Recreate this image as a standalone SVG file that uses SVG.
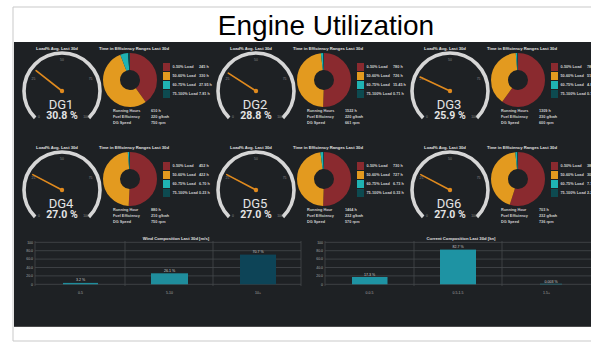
<svg xmlns="http://www.w3.org/2000/svg" width="591" height="343" viewBox="0 0 591 343">
<defs>
<style>
.frame{fill:none;stroke:#c9c9c9;stroke-width:1}
.t{font-family:"Liberation Sans",Arial,sans-serif;fill:#d9d9d9}
.ttl{font-size:4.2px;font-weight:bold;text-anchor:middle;fill:#e0e0e0}
.sm{font-size:3.8px;font-weight:bold;fill:#d0d0d0}
.tick{font-size:3.4px;fill:#8a8a8a;text-anchor:middle}
.arc{fill:none;stroke:#d6d6d6;stroke-width:3.6}
.needle{stroke:#e08a1e;stroke-width:1.6;stroke-linecap:round}
.dg{font-family:Roboto,"Liberation Sans",sans-serif;font-size:13px;fill:#e4e4e4;text-anchor:middle}
.pct{font-family:Roboto,"Liberation Sans",sans-serif;font-size:10.5px;font-weight:bold;fill:#e4e4e4;text-anchor:middle}
.seg{fill:none;stroke-width:17}
.m{stroke:#8a2a2f}.o{stroke:#e39a1f}.c{stroke:#1fb3b3}.d{stroke:#0d4a50}
.fm{fill:#8a2a2f}.fo{fill:#e39a1f}.fc{fill:#1fb3b3}.fd{fill:#0d4a50}
.grid{stroke:#45494d;stroke-width:0.8}
.ax{font-size:3.5px;fill:#a8a8a8;text-anchor:end}
.cat{font-size:3.5px;fill:#a8a8a8;text-anchor:middle}
.bl{font-size:3.6px;fill:#cfcfcf;text-anchor:middle}
</style>
</defs>
<rect x="0" y="0" width="591" height="343" fill="#ffffff"/>
<line class="frame" x1="13" y1="7" x2="591" y2="7"/>
<line class="frame" x1="13" y1="7" x2="13" y2="341"/>
<line class="frame" x1="13" y1="341" x2="591" y2="341"/>
<text x="326" y="35" font-family="'Liberation Sans',Arial,sans-serif" font-size="28" text-anchor="middle" fill="#000">Engine Utilization</text>
<rect x="14" y="42" width="577" height="285" fill="#1e2124"/>
<line x1="14" y1="326.5" x2="591" y2="326.5" stroke="#555" stroke-width="0.8"/>

<g id="DG1">
<text class="t ttl" x="57" y="49.5">Load% Avg. Last 30d</text>
<text class="t ttl" x="134" y="49.5">Time in Efficiency Ranges Last 30d</text>
<path class="arc" d="M35.13,117.87 A38,38 0 1 1 88.87,117.87"/>
<text class="t tick" x="39" y="118">0</text><text class="t tick" x="33.4" y="80">25</text><text class="t tick" x="62" y="61">50</text><text class="t tick" x="90.6" y="80">75</text><text class="t tick" x="86" y="118">100</text>
<line class="needle" x1="62" y1="91" x2="36.1" y2="70.6"/><circle cx="62" cy="91" r="2.2" fill="#e08a1e"/>
<text class="dg" x="61" y="109">DG1</text><text class="pct" x="62" y="118.5">30.8 %</text>
<g transform="rotate(-90 130 80)">
<circle class="seg m" cx="130" cy="80" r="18.5" pathLength="360" stroke-dasharray="144.4 360" stroke-dashoffset="0"/>
<circle class="seg o" cx="130" cy="80" r="18.5" pathLength="360" stroke-dasharray="194.5 360" stroke-dashoffset="-144.4"/>
<circle class="seg c" cx="130" cy="80" r="18.5" pathLength="360" stroke-dasharray="16.5 360" stroke-dashoffset="-338.9"/>
<circle class="seg d" cx="130" cy="80" r="18.5" pathLength="360" stroke-dasharray="4.6 360" stroke-dashoffset="-355.4"/>
</g>
<rect class="fm" x="163" y="63" width="7" height="8"/><rect class="fo" x="163" y="72" width="7" height="8"/><rect class="fc" x="163" y="81" width="7" height="8"/><rect class="fd" x="163" y="90" width="7" height="8"/>
<text class="t sm" x="172.5" y="68.3">0-50% Load</text><text class="t sm" x="172.5" y="77.3">50-60% Load</text><text class="t sm" x="172.5" y="86.3">60-75% Load</text><text class="t sm" x="172.5" y="95.3">75-100% Load</text>
<text class="t sm" x="199" y="68.3">245 h</text><text class="t sm" x="199" y="77.3">330 h</text><text class="t sm" x="199" y="86.3">27.95 h</text><text class="t sm" x="199" y="95.3">7.81 h</text>
<text class="t sm" x="113" y="112.3">Running Hours</text><text class="t sm" x="113" y="118.3">Fuel Efficiency</text><text class="t sm" x="113" y="124.3">DG Speed</text>
<text class="t sm" x="151" y="112.3">610 h</text><text class="t sm" x="151" y="118.3">220 g/kwh</text><text class="t sm" x="151" y="124.3">750 rpm</text>
</g>

<g id="DG2" transform="translate(194 0)">
<text class="t ttl" x="57" y="49.5">Load% Avg. Last 30d</text>
<text class="t ttl" x="134" y="49.5">Time in Efficiency Ranges Last 30d</text>
<path class="arc" d="M35.13,117.87 A38,38 0 1 1 88.87,117.87"/>
<text class="t tick" x="39" y="118">0</text><text class="t tick" x="33.4" y="80">25</text><text class="t tick" x="62" y="61">50</text><text class="t tick" x="90.6" y="80">75</text><text class="t tick" x="86" y="118">100</text>
<line class="needle" x1="62" y1="91" x2="34.3" y2="73.1"/><circle cx="62" cy="91" r="2.2" fill="#e08a1e"/>
<text class="dg" x="61" y="109">DG2</text><text class="pct" x="62" y="118.5">28.8 %</text>
<g transform="rotate(-90 130 80)">
<circle class="seg m" cx="130" cy="80" r="18.5" pathLength="360" stroke-dasharray="182 360" stroke-dashoffset="0"/>
<circle class="seg o" cx="130" cy="80" r="18.5" pathLength="360" stroke-dasharray="171 360" stroke-dashoffset="-182"/>
<circle class="seg c" cx="130" cy="80" r="18.5" pathLength="360" stroke-dasharray="5 360" stroke-dashoffset="-353"/>
<circle class="seg d" cx="130" cy="80" r="18.5" pathLength="360" stroke-dasharray="2 360" stroke-dashoffset="-358"/>
</g>
<rect class="fm" x="163" y="63" width="7" height="8"/><rect class="fo" x="163" y="72" width="7" height="8"/><rect class="fc" x="163" y="81" width="7" height="8"/><rect class="fd" x="163" y="90" width="7" height="8"/>
<text class="t sm" x="172.5" y="68.3">0-50% Load</text><text class="t sm" x="172.5" y="77.3">50-60% Load</text><text class="t sm" x="172.5" y="86.3">60-75% Load</text><text class="t sm" x="172.5" y="95.3">75-100% Load</text>
<text class="t sm" x="199" y="68.3">780 h</text><text class="t sm" x="199" y="77.3">726 h</text><text class="t sm" x="199" y="86.3">15.45 h</text><text class="t sm" x="199" y="95.3">0.71 h</text>
<text class="t sm" x="113" y="112.3">Running Hours</text><text class="t sm" x="113" y="118.3">Fuel Efficiency</text><text class="t sm" x="113" y="124.3">DG Speed</text>
<text class="t sm" x="151" y="112.3">1522 h</text><text class="t sm" x="151" y="118.3">220 g/kwh</text><text class="t sm" x="151" y="124.3">661 rpm</text>
</g>

<g id="DG3" transform="translate(388 0)">
<text class="t ttl" x="57" y="49.5">Load% Avg. Last 30d</text>
<text class="t ttl" x="134" y="49.5">Time in Efficiency Ranges Last 30d</text>
<path class="arc" d="M35.13,117.87 A38,38 0 1 1 88.87,117.87"/>
<text class="t tick" x="39" y="118">0</text><text class="t tick" x="33.4" y="80">25</text><text class="t tick" x="62" y="61">50</text><text class="t tick" x="90.6" y="80">75</text><text class="t tick" x="86" y="118">100</text>
<line class="needle" x1="62" y1="91" x2="32.1" y2="77.1"/><circle cx="62" cy="91" r="2.2" fill="#e08a1e"/>
<text class="dg" x="61" y="109">DG3</text><text class="pct" x="62" y="118.5">25.9 %</text>
<g transform="rotate(-90 130 80)">
<circle class="seg m" cx="130" cy="80" r="18.5" pathLength="360" stroke-dasharray="216 360" stroke-dashoffset="0"/>
<circle class="seg o" cx="130" cy="80" r="18.5" pathLength="360" stroke-dasharray="139 360" stroke-dashoffset="-216"/>
<circle class="seg c" cx="130" cy="80" r="18.5" pathLength="360" stroke-dasharray="3 360" stroke-dashoffset="-355"/>
<circle class="seg d" cx="130" cy="80" r="18.5" pathLength="360" stroke-dasharray="2 360" stroke-dashoffset="-358"/>
</g>
<rect class="fm" x="163" y="63" width="7" height="8"/><rect class="fo" x="163" y="72" width="7" height="8"/><rect class="fc" x="163" y="81" width="7" height="8"/><rect class="fd" x="163" y="90" width="7" height="8"/>
<text class="t sm" x="172.5" y="68.3">0-50% Load</text><text class="t sm" x="172.5" y="77.3">50-60% Load</text><text class="t sm" x="172.5" y="86.3">60-75% Load</text><text class="t sm" x="172.5" y="95.3">75-100% Load</text>
<text class="t sm" x="199" y="68.3">785 h</text><text class="t sm" x="199" y="77.3">518 h</text><text class="t sm" x="199" y="86.3">4.85 h</text><text class="t sm" x="199" y="95.3">0.71 h</text>
<text class="t sm" x="113" y="112.3">Running Hours</text><text class="t sm" x="113" y="118.3">Fuel Efficiency</text><text class="t sm" x="113" y="124.3">DG Speed</text>
<text class="t sm" x="151" y="112.3">1309 h</text><text class="t sm" x="151" y="118.3">230 g/kwh</text><text class="t sm" x="151" y="124.3">600 rpm</text>
</g>

<g id="DG4" transform="translate(0 99)">
<text class="t ttl" x="57" y="49.5">Load% Avg. Last 30d</text>
<text class="t ttl" x="134" y="49.5">Time in Efficiency Ranges Last 30d</text>
<path class="arc" d="M35.13,117.87 A38,38 0 1 1 88.87,117.87"/>
<text class="t tick" x="39" y="118">0</text><text class="t tick" x="33.4" y="80">25</text><text class="t tick" x="62" y="61">50</text><text class="t tick" x="90.6" y="80">75</text><text class="t tick" x="86" y="118">100</text>
<line class="needle" x1="62" y1="91" x2="32.8" y2="75.6"/><circle cx="62" cy="91" r="2.2" fill="#e08a1e"/>
<text class="dg" x="61" y="109">DG4</text><text class="pct" x="62" y="118.5">27.0 %</text>
<g transform="rotate(-90 130 80)">
<circle class="seg m" cx="130" cy="80" r="18.5" pathLength="360" stroke-dasharray="183 360" stroke-dashoffset="0"/>
<circle class="seg o" cx="130" cy="80" r="18.5" pathLength="360" stroke-dasharray="172 360" stroke-dashoffset="-183"/>
<circle class="seg c" cx="130" cy="80" r="18.5" pathLength="360" stroke-dasharray="3 360" stroke-dashoffset="-355"/>
<circle class="seg d" cx="130" cy="80" r="18.5" pathLength="360" stroke-dasharray="2 360" stroke-dashoffset="-358"/>
</g>
<rect class="fm" x="163" y="63" width="7" height="8"/><rect class="fo" x="163" y="72" width="7" height="8"/><rect class="fc" x="163" y="81" width="7" height="8"/><rect class="fd" x="163" y="90" width="7" height="8"/>
<text class="t sm" x="172.5" y="68.3">0-50% Load</text><text class="t sm" x="172.5" y="77.3">50-60% Load</text><text class="t sm" x="172.5" y="86.3">60-75% Load</text><text class="t sm" x="172.5" y="95.3">75-100% Load</text>
<text class="t sm" x="199" y="68.3">452 h</text><text class="t sm" x="199" y="77.3">422 h</text><text class="t sm" x="199" y="86.3">6.70 h</text><text class="t sm" x="199" y="95.3">0.23 h</text>
<text class="t sm" x="113" y="112.3">Running Hour</text><text class="t sm" x="113" y="118.3">Fuel Efficiency</text><text class="t sm" x="113" y="124.3">DG Speed</text>
<text class="t sm" x="151" y="112.3">880 h</text><text class="t sm" x="151" y="118.3">210 g/kwh</text><text class="t sm" x="151" y="124.3">750 rpm</text>
</g>

<g id="DG5" transform="translate(194 99)">
<text class="t ttl" x="57" y="49.5">Load% Avg. Last 30d</text>
<text class="t ttl" x="134" y="49.5">Time in Efficiency Ranges Last 30d</text>
<path class="arc" d="M35.13,117.87 A38,38 0 1 1 88.87,117.87"/>
<text class="t tick" x="39" y="118">0</text><text class="t tick" x="33.4" y="80">25</text><text class="t tick" x="62" y="61">50</text><text class="t tick" x="90.6" y="80">75</text><text class="t tick" x="86" y="118">100</text>
<line class="needle" x1="62" y1="91" x2="32.8" y2="75.6"/><circle cx="62" cy="91" r="2.2" fill="#e08a1e"/>
<text class="dg" x="61" y="109">DG5</text><text class="pct" x="62" y="118.5">27.0 %</text>
<g transform="rotate(-90 130 80)">
<circle class="seg m" cx="130" cy="80" r="18.5" pathLength="360" stroke-dasharray="182 360" stroke-dashoffset="0"/>
<circle class="seg o" cx="130" cy="80" r="18.5" pathLength="360" stroke-dasharray="170 360" stroke-dashoffset="-182"/>
<circle class="seg c" cx="130" cy="80" r="18.5" pathLength="360" stroke-dasharray="6 360" stroke-dashoffset="-352"/>
<circle class="seg d" cx="130" cy="80" r="18.5" pathLength="360" stroke-dasharray="2 360" stroke-dashoffset="-358"/>
</g>
<rect class="fm" x="163" y="63" width="7" height="8"/><rect class="fo" x="163" y="72" width="7" height="8"/><rect class="fc" x="163" y="81" width="7" height="8"/><rect class="fd" x="163" y="90" width="7" height="8"/>
<text class="t sm" x="172.5" y="68.3">0-50% Load</text><text class="t sm" x="172.5" y="77.3">50-60% Load</text><text class="t sm" x="172.5" y="86.3">60-75% Load</text><text class="t sm" x="172.5" y="95.3">75-100% Load</text>
<text class="t sm" x="199" y="68.3">730 h</text><text class="t sm" x="199" y="77.3">727 h</text><text class="t sm" x="199" y="86.3">6.73 h</text><text class="t sm" x="199" y="95.3">0.33 h</text>
<text class="t sm" x="113" y="112.3">Running Hour</text><text class="t sm" x="113" y="118.3">Fuel Efficiency</text><text class="t sm" x="113" y="124.3">DG Speed</text>
<text class="t sm" x="151" y="112.3">1464 h</text><text class="t sm" x="151" y="118.3">232 g/kwh</text><text class="t sm" x="151" y="124.3">570 rpm</text>
</g>

<g id="DG6" transform="translate(388 99)">
<text class="t ttl" x="57" y="49.5">Load% Avg. Last 30d</text>
<text class="t ttl" x="134" y="49.5">Time in Efficiency Ranges Last 30d</text>
<path class="arc" d="M35.13,117.87 A38,38 0 1 1 88.87,117.87"/>
<text class="t tick" x="39" y="118">0</text><text class="t tick" x="33.4" y="80">25</text><text class="t tick" x="62" y="61">50</text><text class="t tick" x="90.6" y="80">75</text><text class="t tick" x="86" y="118">100</text>
<line class="needle" x1="62" y1="91" x2="32.8" y2="75.6"/><circle cx="62" cy="91" r="2.2" fill="#e08a1e"/>
<text class="dg" x="61" y="109">DG6</text><text class="pct" x="62" y="118.5">27.0 %</text>
<g transform="rotate(-90 130 80)">
<circle class="seg m" cx="130" cy="80" r="18.5" pathLength="360" stroke-dasharray="198 360" stroke-dashoffset="0"/>
<circle class="seg o" cx="130" cy="80" r="18.5" pathLength="360" stroke-dasharray="156 360" stroke-dashoffset="-198"/>
<circle class="seg c" cx="130" cy="80" r="18.5" pathLength="360" stroke-dasharray="4 360" stroke-dashoffset="-354"/>
<circle class="seg d" cx="130" cy="80" r="18.5" pathLength="360" stroke-dasharray="2 360" stroke-dashoffset="-358"/>
</g>
<rect class="fm" x="163" y="63" width="7" height="8"/><rect class="fo" x="163" y="72" width="7" height="8"/><rect class="fc" x="163" y="81" width="7" height="8"/><rect class="fd" x="163" y="90" width="7" height="8"/>
<text class="t sm" x="172.5" y="68.3">0-50% Load</text><text class="t sm" x="172.5" y="77.3">50-60% Load</text><text class="t sm" x="172.5" y="86.3">60-75% Load</text><text class="t sm" x="172.5" y="95.3">75-100% Load</text>
<text class="t sm" x="199" y="68.3">388 h</text><text class="t sm" x="199" y="77.3">305 h</text><text class="t sm" x="199" y="86.3">7.73 h</text><text class="t sm" x="199" y="95.3">2.27 h</text>
<text class="t sm" x="113" y="112.3">Running Hour</text><text class="t sm" x="113" y="118.3">Fuel Efficiency</text><text class="t sm" x="113" y="124.3">DG Speed</text>
<text class="t sm" x="151" y="112.3">703 h</text><text class="t sm" x="151" y="118.3">232 g/kwh</text><text class="t sm" x="151" y="124.3">736 rpm</text>
</g>

<g id="wind-chart">
<text class="t ttl" x="176" y="239.5">Wind Composition Last 30d [m/s]</text>
<g class="grid">
<line x1="35" y1="242.3" x2="301" y2="242.3"/><line x1="35" y1="250.7" x2="301" y2="250.7"/><line x1="35" y1="259.1" x2="301" y2="259.1"/><line x1="35" y1="267.5" x2="301" y2="267.5"/><line x1="35" y1="275.9" x2="301" y2="275.9"/><line x1="35" y1="284.3" x2="301" y2="284.3"/>
<line x1="35" y1="241" x2="35" y2="286"/><line x1="125" y1="241" x2="125" y2="286"/><line x1="213" y1="241" x2="213" y2="286"/><line x1="301" y1="241" x2="301" y2="286"/>
</g>
<text class="t ax" x="33" y="243.5">100</text><text class="t ax" x="33" y="251.9">80.0</text><text class="t ax" x="33" y="260.3">60.0</text><text class="t ax" x="33" y="268.7">40.0</text><text class="t ax" x="33" y="277.1">20.0</text><text class="t ax" x="33" y="285.5">0</text>
<rect x="63" y="282.9" width="35" height="1.4" fill="#1f8d9c"/>
<rect x="151" y="273.3" width="37" height="11" fill="#1f8d9c"/>
<rect x="240" y="254.6" width="36" height="29.7" fill="#0d4457"/>
<text class="t bl" x="80.5" y="281.3">3.2 %</text><text class="t bl" x="169.5" y="272">26.1 %</text><text class="t bl" x="258" y="253.2">70.7 %</text>
<text class="t cat" x="80.5" y="293.5">0-5</text><text class="t cat" x="169.5" y="293.5">5-10</text><text class="t cat" x="258" y="293.5">10+</text>
</g>

<g id="current-chart">
<text class="t ttl" x="461" y="239.5">Current Composition Last 30d [kn]</text>
<g class="grid">
<line x1="325" y1="242.3" x2="591" y2="242.3"/><line x1="325" y1="250.7" x2="591" y2="250.7"/><line x1="325" y1="259.1" x2="591" y2="259.1"/><line x1="325" y1="267.5" x2="591" y2="267.5"/><line x1="325" y1="275.9" x2="591" y2="275.9"/><line x1="325" y1="284.3" x2="591" y2="284.3"/>
<line x1="325" y1="241" x2="325" y2="286"/><line x1="414" y1="241" x2="414" y2="286"/><line x1="502" y1="241" x2="502" y2="286"/>
</g>
<text class="t ax" x="323" y="243.5">100</text><text class="t ax" x="323" y="251.9">80.0</text><text class="t ax" x="323" y="260.3">60.0</text><text class="t ax" x="323" y="268.7">40.0</text><text class="t ax" x="323" y="277.1">20.0</text><text class="t ax" x="323" y="285.5">0</text>
<rect x="352" y="277" width="35.5" height="7.3" fill="#1e93a3"/>
<rect x="440" y="249.6" width="36" height="34.7" fill="#1e93a3"/>
<rect x="540" y="283.8" width="22" height="0.5" fill="#1e93a3"/>
<text class="t bl" x="369.5" y="275.7">17.3 %</text><text class="t bl" x="458" y="248.3">82.7 %</text><text class="t bl" x="551" y="282.5">0.003 %</text>
<text class="t cat" x="369.5" y="293.5">0-0.5</text><text class="t cat" x="458" y="293.5">0.5-1.5</text><text class="t cat" x="546.5" y="293.5">1.5+</text>
</g>
</svg>
